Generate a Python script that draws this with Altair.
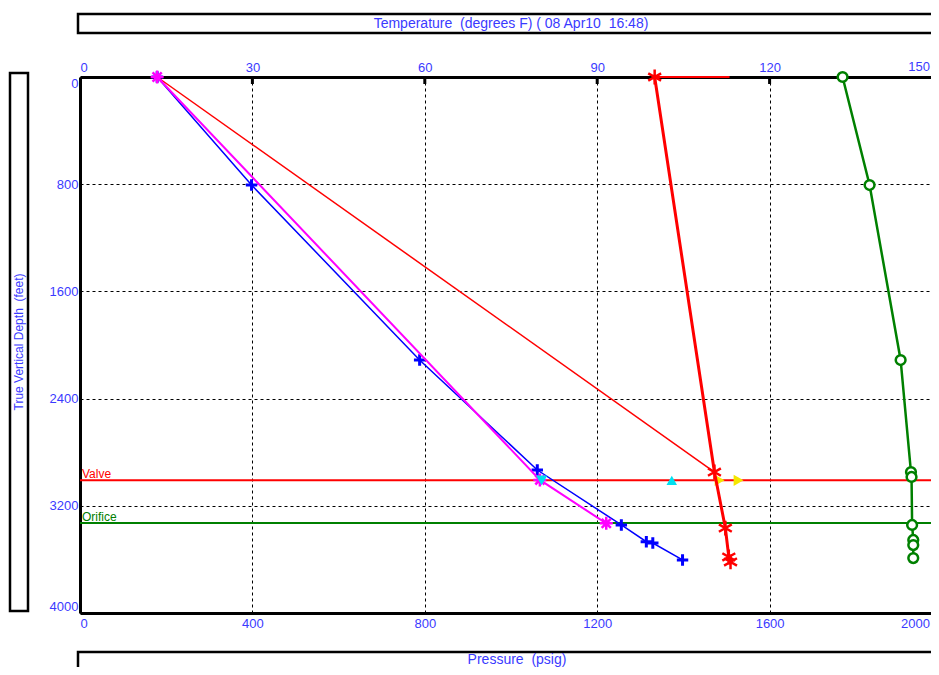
import altair as alt
import pandas as pd

# ---------------- data ----------------
# Pressure traverse, blue "+" markers  (pressure psig, depth ft)
blue_p = [179, 398, 788, 1061, 1256, 1314, 1329, 1398]
blue_d = [0, 806, 2112, 2933, 3343, 3468, 3478, 3604]

# Magenta asterisk traverse
mag_p = [179, 1067, 1221]
mag_d = [0, 3007, 3331]

# Thin red pressure line
redthin_p = [179, 1472]
redthin_d = [0, 2948]

# Thin red line along the surface
redtop_p = [1333, 1507]
redtop_d = [0, 0]

# Red temperature profile (deg F, depth ft)
red_t = [100.0, 110.4, 112.3, 112.9, 113.2]
red_d = [0, 2948, 3366, 3582, 3619]

# Green temperature profile (deg F, depth ft)
green_t = [132.7, 137.4, 142.8, 144.6, 144.7, 144.8, 145.0, 145.0, 145.0]
green_d = [0, 806, 2112, 2948, 2985, 3343, 3455, 3493, 3590]

# Valve / orifice depths
valve_depth = 3010
orifice_depth = 3328

# Markers on the valve line
cyan_down_p = [1071]
cyan_up_p = [1373]
yellow_p = [1484, 1528]

# Axis tick values
p_ticks = [0, 400, 800, 1200, 1600]
t_ticks = [0, 30, 60, 90, 120]
p_last, t_last = "2000", "150"
t_inner_ticks = [30, 60, 90, 120]
d_ticks = [0, 800, 1600, 2400, 3200, 4000]
p_grid = [400, 800, 1200, 1600]

# ---------------- styling ----------------
PLOT_W, VIEW_W, H = 862, 851, 536
BLUE_TXT = "#3a3aff"
FONT = "Liberation Sans"
FS = 13

xP = alt.Scale(domain=[0, 2000], nice=False, range=[0, PLOT_W])
xT = alt.Scale(domain=[0, 150], nice=False, range=[0, PLOT_W])
yS = alt.Scale(domain=[0, 4000], reverse=True, nice=False)

pAxis = alt.Axis(values=p_ticks, orient="bottom", grid=True, gridDash=[3, 3],
                 gridColor="black", gridOpacity=1, gridWidth=1, ticks=False,
                 domainColor="black", domainWidth=3, labelColor=BLUE_TXT,
                 labelFont=FONT, labelFontSize=FS, labelPadding=4, format="d",
                 labelFlush=True, title=None, zindex=0)
tAxis = alt.Axis(values=t_ticks, orient="top", grid=False, ticks=False,
                 domainColor="black", domainWidth=3, labelColor=BLUE_TXT,
                 labelFont=FONT, labelFontSize=FS, labelPadding=3, format="d",
                 labelFlush=True, title=None, zindex=0)
yAxis = alt.Axis(values=d_ticks, orient="left", grid=True, gridDash=[3, 3],
                 gridColor="black", gridOpacity=1, gridWidth=1, ticks=False,
                 domainColor="black", domainWidth=3, labelColor=BLUE_TXT,
                 labelFont=FONT, labelFontSize=FS, labelPadding=2, format="d",
                 labelFlush=True, title=None, zindex=0)


def Y():
    return alt.Y("d:Q", scale=yS, axis=yAxis)


def XP():
    return alt.X("p:Q", scale=xP, axis=pAxis)


def XT():
    return alt.X("t:Q", scale=xT, axis=tAxis)


def dfp(p, d):
    return pd.DataFrame({"p": p, "d": d, "o": list(range(len(p)))})


def dft(t, d):
    return pd.DataFrame({"t": t, "d": d, "o": list(range(len(t)))})


PLUS = "M-1,0L1,0M0,-1L0,1"
AST8 = "M-1,0L1,0M0,-1L0,1M-0.7,-0.7L0.7,0.7M-0.7,0.7L0.7,-0.7"
AST6 = "M0,-1L0,1M-0.87,-0.5L0.87,0.5M-0.87,0.5L0.87,-0.5"

# ---------------- pressure group ----------------
blue = dfp(blue_p, blue_d)
mag = dfp(mag_p, mag_d)
redthin = dfp(redthin_p, redthin_d)
redtop = dfp(redtop_p, redtop_d)
lines_df = pd.DataFrame({"d": [valve_depth, orifice_depth],
                         "name": ["Valve", "Orifice"],
                         "c": ["#ff0000", "#008000"]})

valve_rule = alt.Chart(lines_df).mark_rule(strokeWidth=2).encode(
    y=Y(), x=alt.value(0), x2=alt.value(PLOT_W), color=alt.Color("c:N", scale=None))
valve_text = alt.Chart(lines_df).mark_text(
    align="left", baseline="alphabetic", dx=2, dy=-2, font=FONT, fontSize=12
).encode(x=alt.value(0), y=Y(), text="name:N", color=alt.Color("c:N", scale=None))

redthin_line = alt.Chart(redthin).mark_line(color="#ff0000", strokeWidth=1.5).encode(
    x=XP(), y=Y(), order="o:Q")
redtop_line = alt.Chart(redtop).mark_line(color="#ff0000", strokeWidth=2).encode(
    x=XP(), y=Y(), order="o:Q")
blue_line = alt.Chart(blue).mark_line(color="#0000ff", strokeWidth=1.5).encode(
    x=XP(), y=Y(), order="o:Q")
blue_pts = alt.Chart(blue).mark_point(shape=PLUS, color="#0000ff", size=130,
                                      strokeWidth=3, filled=False, opacity=1).encode(
    x=XP(), y=Y())
mag_line = alt.Chart(mag).mark_line(color="#ff00ff", strokeWidth=2).encode(
    x=XP(), y=Y(), order="o:Q")
mag_pts = alt.Chart(mag).mark_point(shape=AST8, color="#ff00ff", size=170,
                                    strokeWidth=2.5, filled=False, opacity=1).encode(
    x=XP(), y=Y())
cyan_dn = alt.Chart(dfp(cyan_down_p, [valve_depth])).mark_point(
    shape="triangle-down", color="#00e0f0", size=130, filled=True, opacity=1).encode(
    x=XP(), y=Y())
cyan_up = alt.Chart(dfp(cyan_up_p, [valve_depth])).mark_point(
    shape="triangle-up", color="#00e0f0", size=110, filled=True, opacity=1).encode(
    x=XP(), y=Y())
yellow = alt.Chart(dfp(yellow_p, [valve_depth] * len(yellow_p))).mark_point(
    shape="triangle-right", color="#f5e600", size=130, filled=True, opacity=1).encode(
    x=XP(), y=Y())

pressure_group = alt.layer(valve_rule, valve_text, redthin_line, redtop_line,
                           blue_line, blue_pts, mag_line, mag_pts,
                           cyan_dn, cyan_up, yellow)

# ---------------- temperature group ----------------
red = dft(red_t, red_d)
green = dft(green_t, green_d)
tticks = pd.DataFrame({"t": t_inner_ticks})

tick_rules = alt.Chart(tticks).mark_rule(color="black", strokeWidth=3).encode(
    x=XT(), y=alt.value(0), y2=alt.value(7))
red_line = alt.Chart(red).mark_line(color="#ff0000", strokeWidth=3).encode(
    x=XT(), y=Y(), order="o:Q")
red_pts = alt.Chart(red).mark_point(shape=AST6, color="#ff0000", size=220,
                                    strokeWidth=2.5, filled=False, opacity=1).encode(
    x=XT(), y=Y())
green_line = alt.Chart(green).mark_line(color="#008000", strokeWidth=2.5).encode(
    x=XT(), y=Y(), order="o:Q")
green_pts = alt.Chart(green).mark_point(shape="circle", color="#008000", size=95,
                                        strokeWidth=2.5, filled=False, fill="white",
                                        opacity=1).encode(x=XT(), y=Y())

temp_group = alt.layer(tick_rules, red_line, red_pts, green_line, green_pts)

# ---------------- frame boxes and titles ----------------
one = pd.DataFrame({"a": [0]})


def box(x1, x2, y1, y2):
    return alt.Chart(one).mark_rect(fill="white", stroke="black", strokeWidth=2.5).encode(
        x=alt.value(x1), x2=alt.value(x2), y=alt.value(y1), y2=alt.value(y2))


def label(txt, x, y, angle=0, fs=FS, align="center"):
    return alt.Chart(one).mark_text(text=txt, color=BLUE_TXT, font=FONT, fontSize=fs,
                                    align=align, baseline="middle", angle=angle).encode(
        x=alt.value(x), y=alt.value(y))


NB = "\u00a0"
deco = alt.layer(
    box(-2, 900, -63, -44),
    label("Temperature" + NB + " (degrees F) ( 08 Apr10" + NB + " 16:48)", 431, -53, fs=14),
    box(-70, -52, -4, 534),
    label("True Vertical Depth" + NB + " (feet)", -61, 265, angle=270, fs=12),
    box(-2, 900, 575, 640),
    label("Pressure" + NB + " (psig)", 437, 583, fs=14),
    label(t_last, 850, -10, align="right"),
    label(p_last, 850, H + 11, align="right"),
)

chart = alt.layer(deco, pressure_group, temp_group).resolve_scale(
    x="independent"
).properties(
    width=VIEW_W, height=H,
    autosize=alt.AutoSizeParams(type="none"),
    padding={"left": 72, "top": 69, "right": 0, "bottom": 54},
).configure_view(stroke=None).configure(background="white")

chart.save("out.html", embed_options={"renderer": "svg", "actions": False})
